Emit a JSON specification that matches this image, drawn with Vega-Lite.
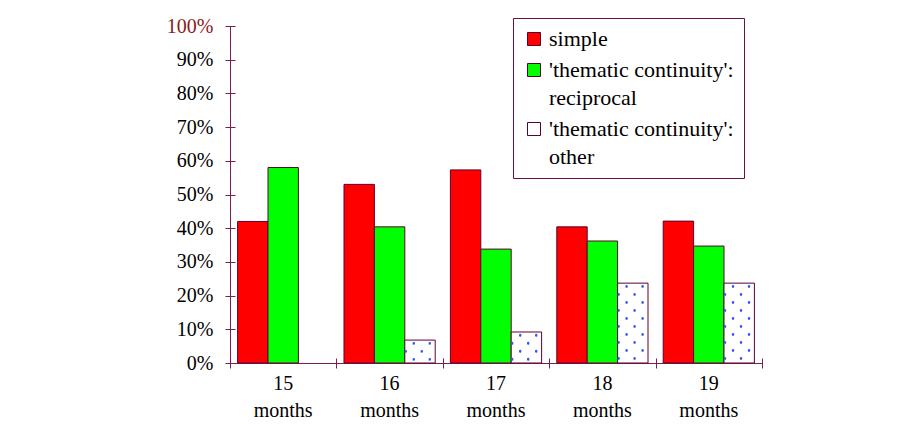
{
  "$schema": "https://vega.github.io/schema/vega-lite/v6.json",
  "width": 532,
  "height": 337,
  "autosize": "none",
  "padding": {"left": 230, "top": 26, "right": 144, "bottom": 67},
  "background": "white",
  "config": {
    "font": "Liberation Serif",
    "view": {"stroke": null},
    "style": {"guide-label": {"lineHeight": 27, "font": "Liberation Serif"}},
    "axis": {"title": null, "grid": false, "domainColor": "#7a2050", "tickColor": "#7a2050", "labelFont": "Liberation Serif", "labelFontSize": 20, "labelColor": "black"},
    "legend": {"labelFont": "Liberation Serif", "labelFontSize": 22}
  },
  "data": {
    "values": [
      {"month": "15", "series": "simple", "value": 0.42},
      {"month": "15", "series": "reciprocal", "value": 0.58},
      {"month": "16", "series": "simple", "value": 0.53},
      {"month": "16", "series": "reciprocal", "value": 0.404},
      {"month": "16", "series": "other", "value": 0.068},
      {"month": "17", "series": "simple", "value": 0.573},
      {"month": "17", "series": "reciprocal", "value": 0.338},
      {"month": "17", "series": "other", "value": 0.092},
      {"month": "18", "series": "simple", "value": 0.404},
      {"month": "18", "series": "reciprocal", "value": 0.362},
      {"month": "18", "series": "other", "value": 0.237},
      {"month": "19", "series": "simple", "value": 0.421},
      {"month": "19", "series": "reciprocal", "value": 0.347},
      {"month": "19", "series": "other", "value": 0.237}
    ]
  },
  "resolve": {"axis": {"x": "independent", "y": "independent"}},
  "layer": [
    {
      "mark": {"type": "bar", "stroke": "#5c0030", "strokeWidth": 1},
      "encoding": {
        "x": {
          "field": "month", "type": "nominal", "sort": null,
          "scale": {"paddingInner": 0, "paddingOuter": 0},
          "axis": {"orient": "bottom", "domain": true, "ticks": false, "tickSize": 0, "labelAngle": 0, "labelPadding": 10, "labelLineHeight": 27, "labelExpr": "[datum.value, 'months']"}
        },
        "xOffset": {
          "field": "series", "type": "nominal",
          "scale": {"domain": ["simple", "reciprocal", "other"], "paddingInner": 0, "paddingOuter": 0.25}
        },
        "y": {
          "field": "value", "type": "quantitative",
          "scale": {"domain": [0, 1], "nice": false},
          "axis": {"orient": "left", "domain": true, "ticks": false, "tickSize": 0, "labelPadding": 17, "values": [0, 0.1, 0.2, 0.3, 0.4, 0.5, 0.6, 0.7, 0.8, 0.9, 1], "format": ".0%",
            "labelColor": {"condition": {"test": "datum.value == 1", "value": "#8b1a1a"}, "value": "black"}}
        },
        "color": {
          "field": "series", "type": "nominal",
          "scale": {"domain": ["simple", "reciprocal", "other"], "range": ["#ff0000", "#00ff00", "#ffffff"]},
          "legend": {
            "orient": "none", "legendX": 283, "legendY": -8, "direction": "vertical",
            "title": null, "padding": 10, "strokeColor": "#6a1040", "fillColor": "white",
            "symbolType": "square", "symbolSize": 169, "symbolStrokeColor": "#5c0030", "symbolStrokeWidth": 1,
            "labelFont": "Liberation Serif", "labelFontSize": 22, "labelColor": "black", "labelLimit": 300, "labelOffset": 4,
            "rowPadding": 9,
            "labelExpr": "datum.value == 'simple' ? 'simple' : datum.value == 'reciprocal' ? [\"'thematic continuity':\", 'reciprocal'] : [\"'thematic continuity':\", 'other']",
            "encode": {"labels": {"enter": {"lineHeight": {"value": 28}}, "update": {"lineHeight": {"value": 28}}}}
          }
        }
      }
    },
    {
      "transform": [{"filter": "datum.series == 'other'"}],
      "mark": {"type": "rule", "color": "#3355ff", "strokeWidth": 2.4, "strokeCap": "round", "strokeDash": [0.5, 15.5], "strokeDashOffset": 5, "xOffset": 16.2},
      "encoding": {
        "x": {"field": "month", "type": "nominal", "sort": null,
          "axis": {"orient": "bottom", "domain": false, "ticks": true, "tickSize": 10, "offset": -5, "tickBand": "extent", "labels": false}},
        "y": {"field": "value", "type": "quantitative",
          "axis": {"orient": "left", "domain": false, "ticks": true, "tickSize": 10, "offset": -5, "labels": false, "values": [0, 0.1, 0.2, 0.3, 0.4, 0.5, 0.6, 0.7, 0.8, 0.9, 1]}},
        "y2": {"datum": 0}
      }
    },
    {
      "transform": [{"filter": "datum.series == 'other'"}],
      "mark": {"type": "rule", "color": "#3355ff", "strokeWidth": 2.4, "strokeCap": "round", "strokeDash": [0.5, 15.5], "strokeDashOffset": 13, "xOffset": 24.2},
      "encoding": {
        "x": {"field": "month", "type": "nominal", "sort": null, "axis": null},
        "y": {"field": "value", "type": "quantitative", "axis": null},
        "y2": {"datum": 0}
      }
    },
    {
      "transform": [{"filter": "datum.series == 'other'"}],
      "mark": {"type": "rule", "color": "#3355ff", "strokeWidth": 2.4, "strokeCap": "round", "strokeDash": [0.5, 15.5], "strokeDashOffset": 5, "xOffset": 32.2},
      "encoding": {
        "x": {"field": "month", "type": "nominal", "sort": null, "axis": null},
        "y": {"field": "value", "type": "quantitative", "axis": null},
        "y2": {"datum": 0}
      }
    },
    {
      "transform": [{"filter": "datum.series == 'other'"}],
      "mark": {"type": "rule", "color": "#3355ff", "strokeWidth": 2.4, "strokeCap": "round", "strokeDash": [0.5, 15.5], "strokeDashOffset": 13, "xOffset": 40.2},
      "encoding": {
        "x": {"field": "month", "type": "nominal", "sort": null, "axis": null},
        "y": {"field": "value", "type": "quantitative", "axis": null},
        "y2": {"datum": 0}
      }
    }
  ]
}
